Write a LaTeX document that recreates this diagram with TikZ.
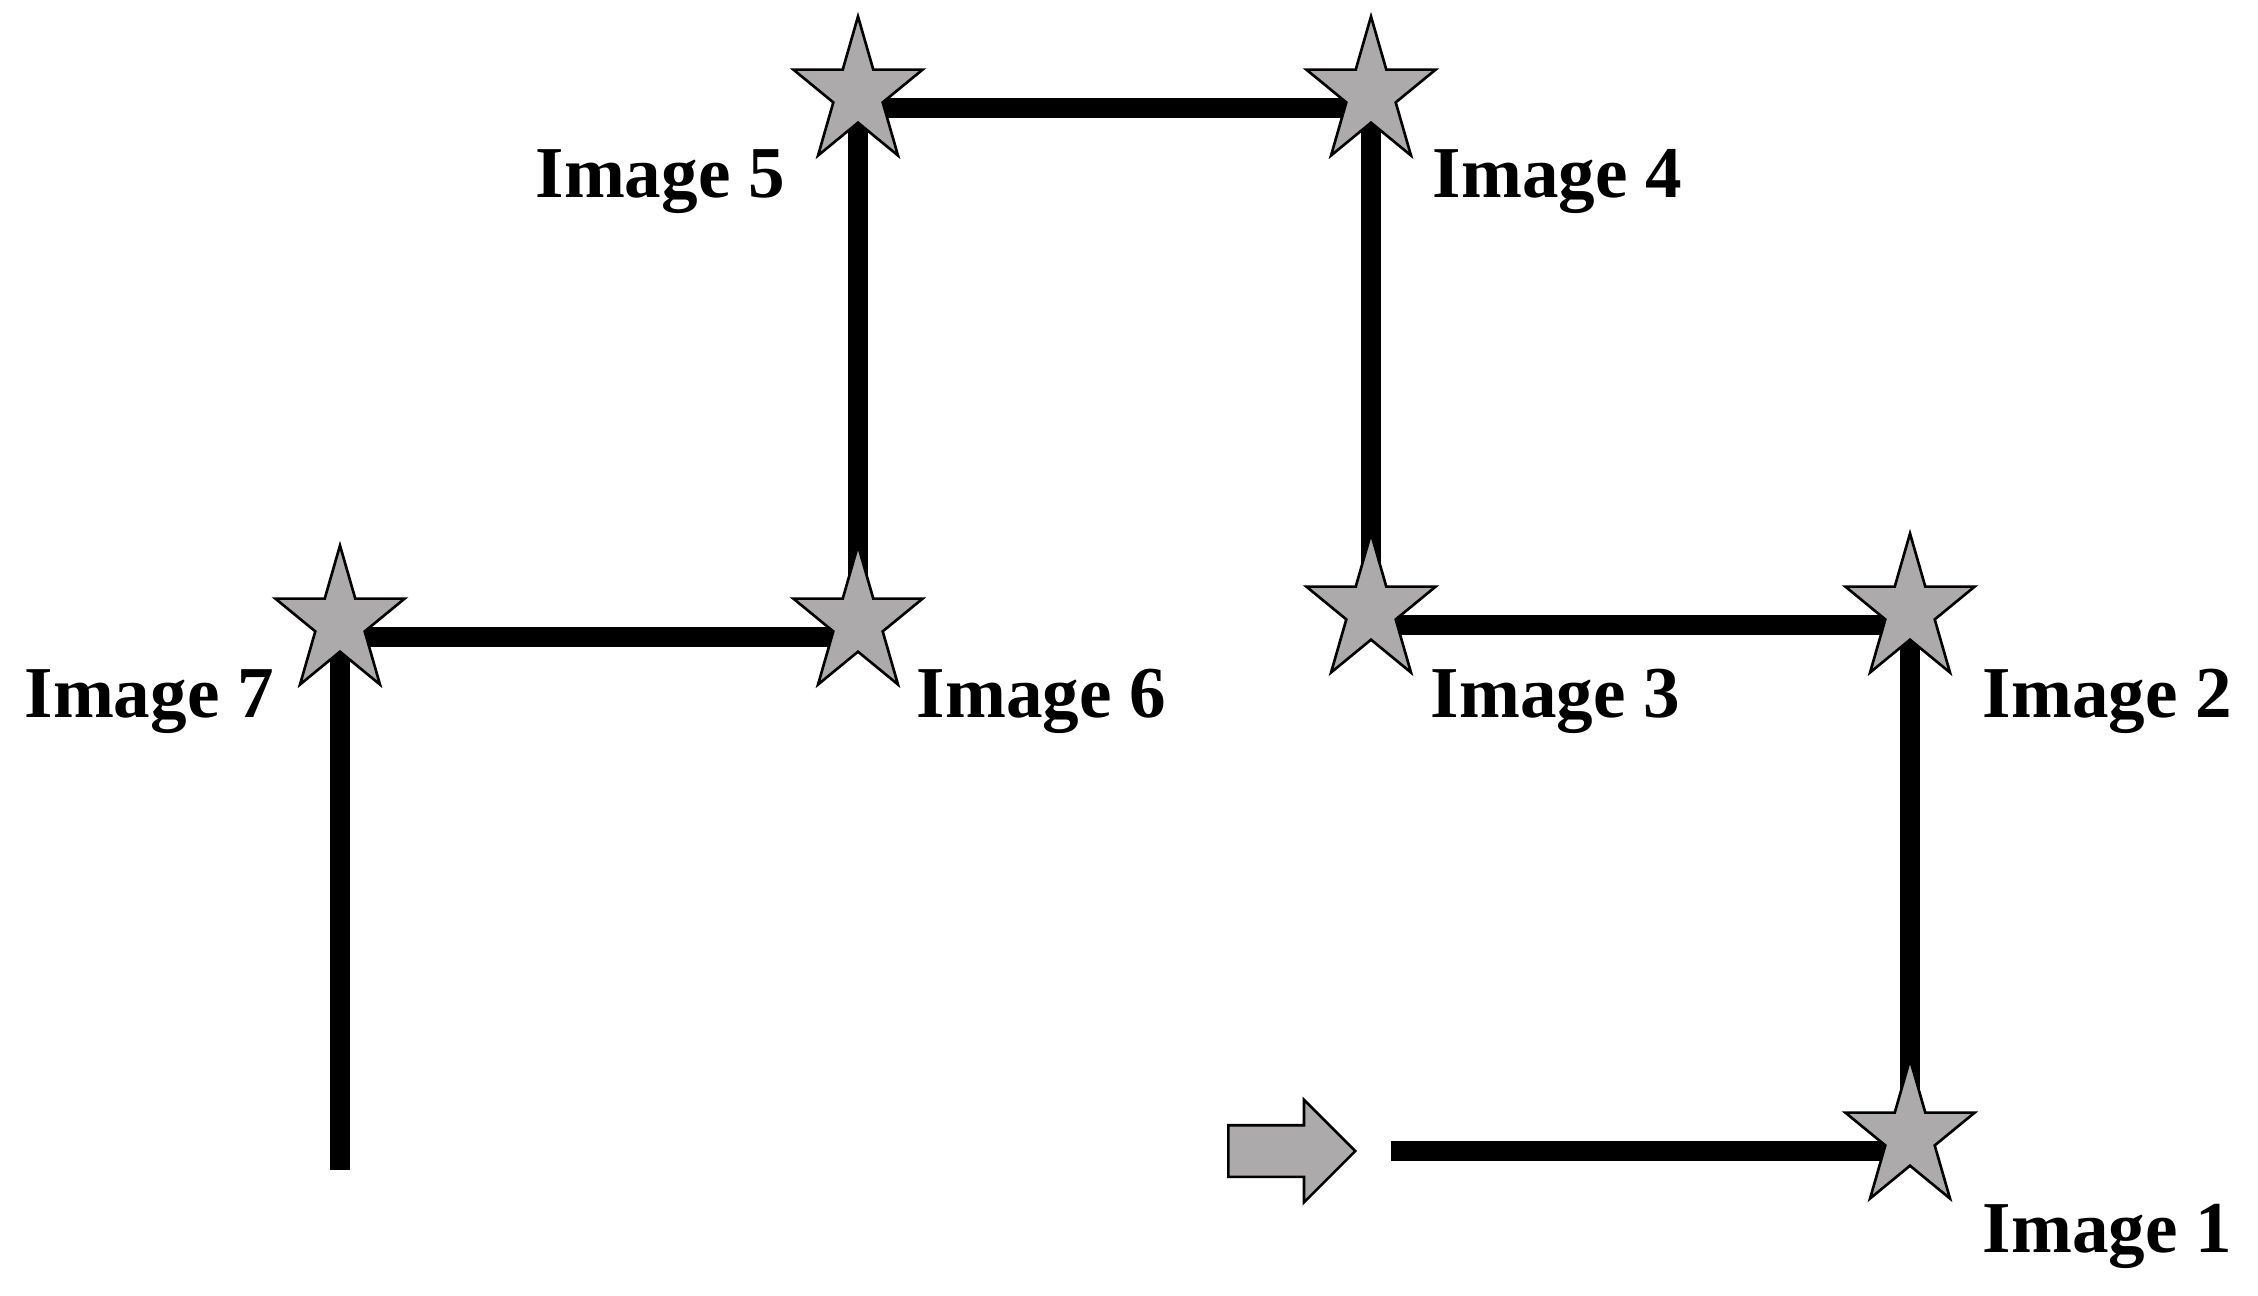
\documentclass[tikz,border=0pt]{standalone}
\usepackage{fontspec}
\setmainfont{Liberation Serif}
\usepackage{tikz}
\usetikzlibrary{shapes.geometric,shapes.arrows,positioning}
\definecolor{shotgray}{RGB}{172,170,170}

\begin{document}
\begin{tikzpicture}[
			shot/.style={
				star,
				star points=5,
				star point ratio=2.618,
				minimum size=1.36cm,
				inner sep=0pt,
				draw=black,
				line width=0.75pt,
				fill=shotgray,
				yscale=1.13,
				yshift=0.13cm
			},
			caption/.style={
				font=\fontsize{20.8}{24}\selectfont\bfseries,
				inner sep=0pt
			},
			track/.style={line width=5.8pt, line cap=butt, line join=miter},
			startarrow/.style={
				single arrow,
				draw=black,
				line width=0.75pt,
				fill=shotgray,
				minimum height=1.27cm,
				minimum width=1.0cm,
				single arrow head extend=0.255cm,
				inner xsep=0pt,
				inner ysep=0.245cm
			}
			]
			\useasboundingbox (0,0) rectangle (22.58,-12.95);
			% corners of the flight path
			\coordinate (c1) at (19.10,-11.51);
			\coordinate (c2) at (19.10,-6.25);
			\coordinate (c3) at (13.71,-6.25);
			\coordinate (c4) at (13.71,-1.08);
			\coordinate (c5) at (8.58,-1.08);
			\coordinate (c6) at (8.58,-6.37);
			\coordinate (c7) at (3.40,-6.37);
			\coordinate (tail) at (3.40,-11.70);
			% start arrow and the path
			\node[startarrow, anchor=tail] (go) at (12.27,-11.51) {};
			\coordinate[right=0.34cm of go.tip] (s0);
			\draw[track] (s0) -- (c1) -- (c2) -- (c3) -- (c4) -- (c5) -- (c6) -- (c7) -- (tail);
			% image positions
			\node[shot] (img1) at (c1) {};
			\node[shot] (img2) at (c2) {};
			\node[shot] (img3) at (c3) {};
			\node[shot] (img4) at (c4) {};
			\node[shot] (img5) at (c5) {};
			\node[shot] (img6) at (c6) {};
			\node[shot] (img7) at (c7) {};
			% labels
			\node[caption, anchor=base west] (lab1) at (19.82,-12.52) {Image 1};
			\node[caption, anchor=base west] (lab2) at (19.82,-7.17) {Image 2};
			\node[caption, anchor=base west] (lab3) at (14.30,-7.17) {Image 3};
			\node[caption, anchor=base west] (lab4) at (14.32,-1.97) {Image 4};
			\node[caption, anchor=base east] (lab5) at (7.86,-1.97) {Image 5};
			\node[caption, anchor=base west] (lab6) at (9.16,-7.17) {Image 6};
			\node[caption, anchor=base east] (lab7) at (2.75,-7.17) {Image 7};
		\end{tikzpicture}
\end{document}
